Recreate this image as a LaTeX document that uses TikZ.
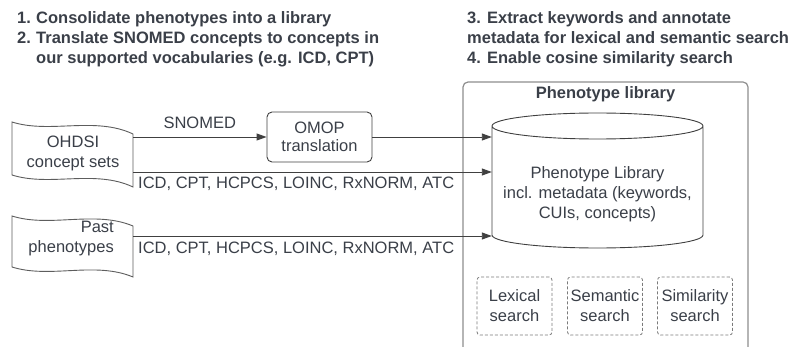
\documentclass[tikz,border=0pt]{standalone}
\usepackage{fontspec}
\setmainfont{Liberation Sans}
\usetikzlibrary{arrows.meta}
\definecolor{txt}{HTML}{3A3F48}
\definecolor{ln}{HTML}{404040}
\definecolor{cont}{HTML}{8E8E8E}
\definecolor{dsh}{HTML}{7A7A7A}
\begin{document}
\begin{tikzpicture}[x=1pt,y=1pt,
  font=\fontsize{16.5}{20}\selectfont, text=txt,
  arr/.style={draw=ln, line width=0.9pt, -{Triangle[length=10pt,width=7pt]}},
  hdr/.style={anchor=base west, inner sep=0pt, font=\bfseries\fontsize{16.5}{20}\selectfont},
  lbl/.style={inner sep=0pt, align=center},
  dbox/.style={draw=dsh, line width=0.8pt, dash pattern=on 3pt off 2pt, rounded corners=3pt,
    minimum width=75pt, minimum height=58pt, inner sep=0pt, align=center},
  tape/.style={draw=ln!85, line width=0.9pt, fill=white},
  ombox/.style={draw=ln, line width=0.9pt, rounded corners=5pt, minimum width=105pt,
    minimum height=50pt, inner sep=0pt, align=center, font=\fontsize{16.5}{18.5}\selectfont},
]
\useasboundingbox (0,0) rectangle (791,-347);

% header text
\node[hdr] (n1) at (17,-24) {1.};
\node[hdr] (t1) at (36,-24) {Consolidate phenotypes into a library};
\node[hdr] (n2) at (17,-44) {2.};
\node[hdr] (t2) at (36,-44) {Translate SNOMED concepts to concepts in};
\node[hdr] (t2b) at (36,-64) {our supported vocabularies (e.g. ICD, CPT)};
\node[hdr] (t3) at (467,-24) {3. Extract keywords and annotate};
\node[hdr] (t3b) at (467,-44) {metadata for lexical and semantic search};
\node[hdr] (t4) at (467,-64) {4. Enable cosine similarity search};

% container
\draw[draw=cont, line width=1.2pt, rounded corners=5pt] (463,-360) -- (463,-82) -- (748,-82) -- (748,-360);
\node[anchor=base, inner sep=0pt, font=\bfseries\fontsize{16.5}{20}\selectfont] (ptitle) at (605.5,-99) {Phenotype library};

% cylinder
\draw[draw=ln, line width=0.9pt, fill=white] (492,-126) -- (492,-235)
  arc[start angle=180, end angle=360, x radius=105.5pt, y radius=13pt] -- (703,-126)
  arc[start angle=0, end angle=180, x radius=105.5pt, y radius=13pt]
  arc[start angle=180, end angle=360, x radius=105.5pt, y radius=13pt];
\node[inner sep=0pt, minimum width=211pt, minimum height=137pt] (lib) at (597.5,-180.5) {};
\node[lbl] (libtxt) at (597.5,-194) {Phenotype Library\\incl. metadata (keywords,\\CUIs, concepts)};

% search boxes
\node[dbox] (lex) at (514.5,-306) {Lexical\\search};
\node[dbox] (sem) at (605,-306) {Semantic\\search};
\node[dbox] (sim) at (695,-306) {Similarity\\search};

% tapes
\draw[tape] (12,-122) .. controls (50,-134) and (95,-116) .. (133,-134) -- (133,-187)
  .. controls (95,-169) and (50,-187) .. (12,-175) -- cycle;
\node[lbl] (ohdsi) at (73,-153) {OHDSI\\concept sets};
\draw[tape] (12,-216) .. controls (50,-228) and (95,-210) .. (133,-226) -- (133,-277)
  .. controls (95,-261) and (50,-279) .. (12,-267) -- cycle;
\node[inner sep=0pt, align=right, anchor=east] (past) at (114,-238.5) {Past\\phenotypes};

% OMOP box
\node[ombox] (omop) at (319.5,-137) {OMOP\\translation};

% connectors
\coordinate (oA) at (133,-137);
\coordinate (oB) at (133,-172);
\coordinate (pB) at (133,-236);
\draw[arr] (oA) -- node[anchor=base, yshift=8pt, inner sep=0pt] (snomed) {SNOMED} (oA -| omop.west);
\draw[arr] (omop.east) -- (omop.east -| lib.west);
\draw[arr] (oB) -- (oB -| lib.west);
\node[anchor=base west, inner sep=0pt] (codes1) at (138,-189) {ICD, CPT, HCPCS, LOINC, RxNORM, ATC};
\draw[arr] (pB) -- (pB -| lib.west);
\node[anchor=base west, inner sep=0pt] (codes2) at (138,-253) {ICD, CPT, HCPCS, LOINC, RxNORM, ATC};
\end{tikzpicture}
\end{document}
